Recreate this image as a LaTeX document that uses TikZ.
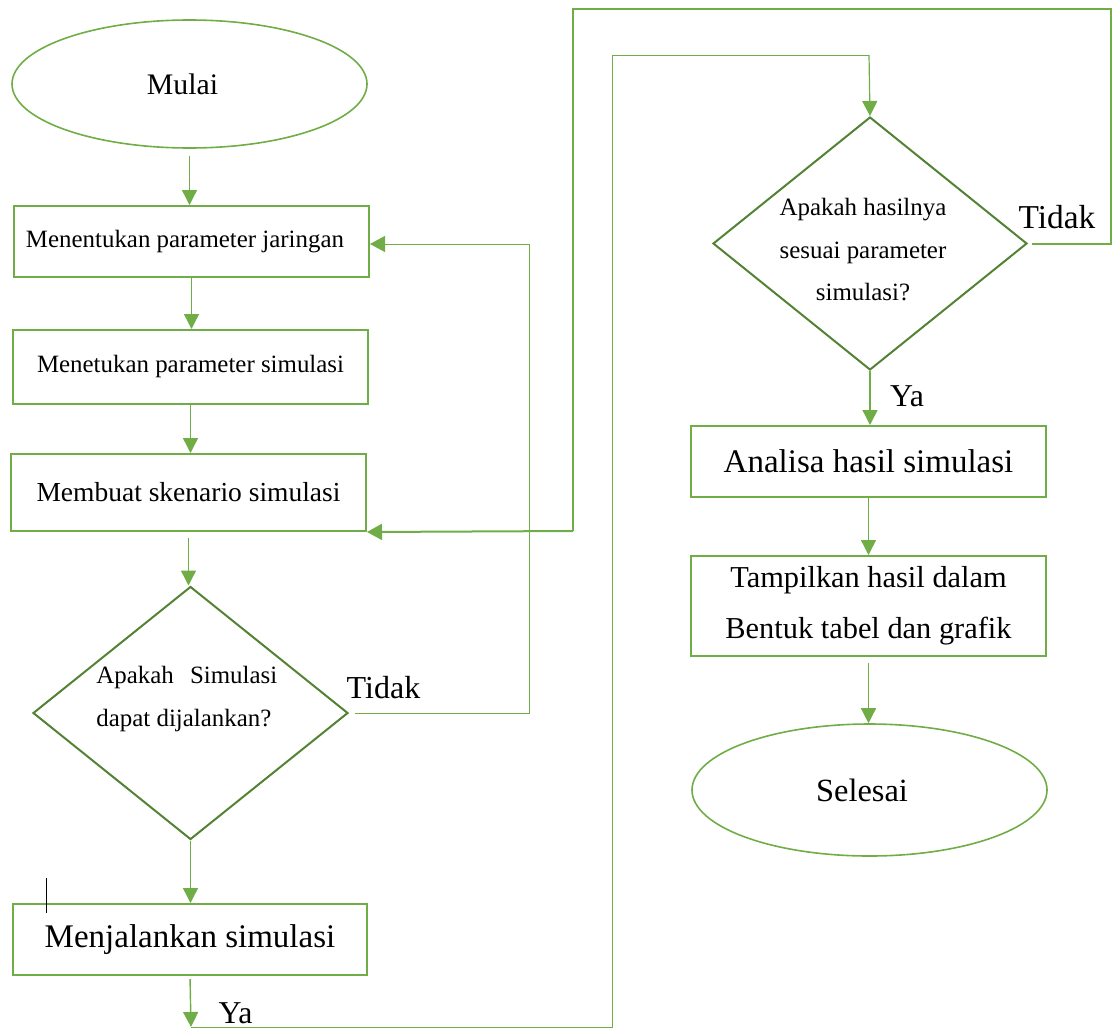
\documentclass[tikz,border=0pt]{standalone}
\usepackage{fontspec}
\setmainfont{Liberation Serif}
\usetikzlibrary{shapes.geometric,arrows.meta,calc}
\definecolor{gbox}{HTML}{70AD47}
\definecolor{gdia}{HTML}{548235}
\begin{document}
\begin{tikzpicture}[x=0.5pt,y=-0.5pt,
  box/.style={draw=gbox,line width=1pt,rectangle,inner sep=0pt},
  term/.style={draw=gbox,line width=0.8pt,ellipse,inner sep=0pt},
  dec/.style={draw=gdia,line width=1pt,diamond,inner sep=0pt},
  arr/.style={draw=gbox,line width=0.7pt,-{Triangle[length=7.5pt,width=7.5pt]}},
  thinline/.style={draw=gbox,line width=0.5pt},
  thickline/.style={draw=gbox,line width=1pt},
  lbl/.style={inner sep=0pt}]
\useasboundingbox (0,0) rectangle (1112,1028);

% left column
\node[term,minimum width=177.5pt,minimum height=64pt] (mulai) at (189.5,84) {};
\node[lbl,font=\fontsize{14.9}{18}\selectfont] (mulait) at (182.5,84) {Mulai};
\node[box,minimum width=177.5pt,minimum height=35.5pt] (b1) at (191.5,241.5) {};
\node[lbl,font=\fontsize{12.45}{15}\selectfont] (b1t) at (185,242) {Menentukan parameter jaringan};
\node[box,minimum width=177.5pt,minimum height=37pt,font=\fontsize{12.45}{15}\selectfont] (b2) at (190.5,367) {Menetukan parameter simulasi};
\node[box,minimum width=177.5pt,minimum height=38.5pt,font=\fontsize{13.75}{16}\selectfont] (b3) at (188.5,492.5) {Membuat skenario simulasi};
\node[dec,minimum width=157.5pt,minimum height=126.5pt] (d1) at (190.5,713) {};
\node[lbl,anchor=west,align=left,font=\fontsize{12.45}{21.5}\selectfont] (d1t) at (96,699) {Apakah\hspace{5pt} Simulasi\\dapat dijalankan?};
\node[box,minimum width=177pt,minimum height=35.5pt,font=\fontsize{16.5}{19}\selectfont] (b4) at (190,939.5) {Menjalankan simulasi};

% right column
\node[dec,minimum width=157pt,minimum height=126.5pt] (d2) at (870,243.5) {};
\node[lbl,align=center,font=\fontsize{12.45}{21.25}\selectfont] (d2t) at (863,250) {Apakah hasilnya\\sesuai parameter\\simulasi?};
\node[box,minimum width=177.5pt,minimum height=35.5pt,font=\fontsize{16.5}{19}\selectfont] (b5) at (868.5,461.5) {Analisa hasil simulasi};
\node[box,minimum width=177.5pt,minimum height=50pt,align=center,font=\fontsize{15.2}{25.5}\selectfont] (b6) at (868.5,606) {Tampilkan hasil dalam\\Bentuk tabel dan grafik};
\node[term,minimum width=177.5pt,minimum height=66pt] (selesai) at (869.5,790) {};
\node[lbl,font=\fontsize{16.2}{19}\selectfont] (selesait) at (862,790) {Selesai};

% labels
\node[lbl,font=\fontsize{16}{19}\selectfont] (tidak1) at (383.5,688) {Tidak};
\node[lbl,font=\fontsize{16.7}{19}\selectfont] (tidak2) at (1057,217.5) {Tidak};
\node[lbl,font=\fontsize{15.9}{19}\selectfont] (ya1) at (235.5,1013) {Ya};
\node[lbl,font=\fontsize{15.9}{19}\selectfont] (ya2) at (907,396) {Ya};

% coordinates for loops
\coordinate (t1) at (529,713);
\coordinate (t2) at (529,244);
\coordinate (k1) at (1111,243.5);
\coordinate (k2) at (1111,9);
\coordinate (k3) at (573,9);
\coordinate (k4) at (573,531);
\coordinate (y1) at (191,1027);
\coordinate (y2) at (612,1027);
\coordinate (y3) at (612,55);
\coordinate (y4) at (869,55);
\coordinate (cur1) at (46,878);
\coordinate (cur2) at (46,913);

% main arrows
\draw[arr,shorten <=3.5pt] (mulai.south) -- (mulai.south |- b1.north);
\draw[arr] (b1.south) -- (b1.south |- b2.north);
\draw[arr] (b2.south) -- (b2.south |- b3.north);
\draw[arr,shorten <=3pt] (b3.south) -- (b3.south |- d1.north);
\draw[arr] (d1.south) -- (d1.south |- b4.north);
\draw[arr,shorten <=1.5pt] (b4.south) -- (y1);
\draw[arr] (d2.south) -- (d2.south |- b5.north);
\draw[arr] (b5.south) -- (b5.south |- b6.north);
\draw[arr,shorten <=3pt] (b6.south) -- (b6.south |- selesai.north);

% loop: simulasi tidak dapat dijalankan
\draw[thinline,shorten <=3pt] (d1.east) -- (t1) -- (t2);
\draw[thinline,-{Triangle[length=7.5pt,width=8pt]}] (t2) -- (t2 -| b1.east);

% loop: hasil tidak sesuai
\draw[thickline,shorten <=2pt] (d2.east) -- (k1) -- (k2) -- (k3) -- (k4);
\draw[thickline,-{Triangle[length=7.5pt,width=8pt]}] (k4) -- (b3.south east);

% Ya path to second column
\draw[thinline] (y1) -- (y2) -- (y3) -- (y4);
\draw[arr,line width=0.6pt] (y4) -- (d2.north);

% text cursor mark
\draw[black,line width=0.5pt] (cur1) -- (cur2);
\end{tikzpicture}
\end{document}
